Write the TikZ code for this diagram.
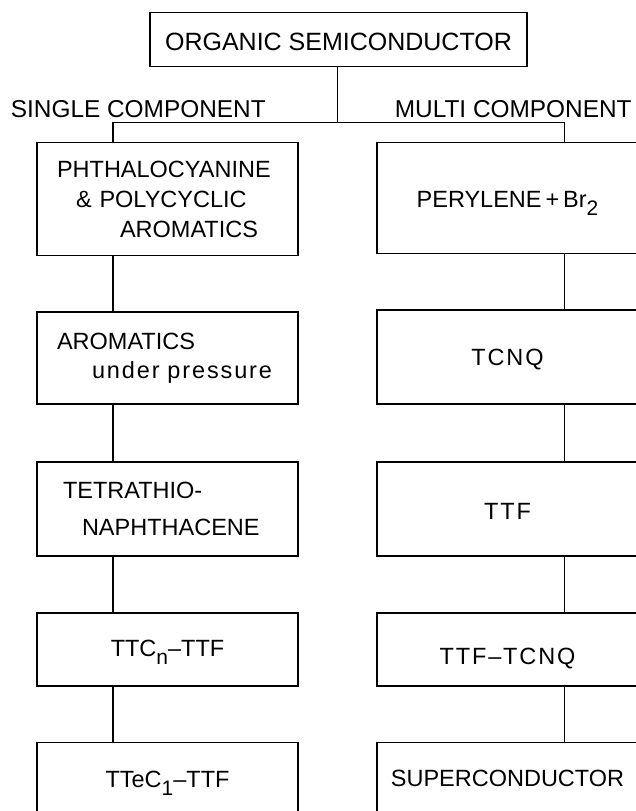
\documentclass[tikz,border=0pt]{standalone}
\usepackage{fontspec}
\setmainfont{Liberation Sans}
\newfontfamily\spaced[LetterSpace=8, Ligatures=TeX]{Liberation Sans}
\newcommand{\lowsub}[1]{\raisebox{-8pt}{\fontsize{21}{21}\selectfont #1}}
\begin{document}
\begin{tikzpicture}[x=1pt, y=-1pt, line width=1.7pt,
  box/.style={draw, rectangle, minimum width=261pt, inner sep=0pt, font=\fontsize{23.5}{30}\selectfont},
  lbox/.style={box, align=left, text width=221pt, inner xsep=20pt},
  one/.style={box, text height=#1, text depth=0pt},
  head/.style={anchor=base west, inner sep=0pt, font=\fontsize{24.4}{28}\selectfont}]
\useasboundingbox (0,0) rectangle (636,811);
% Kopf
\node[draw, minimum width=377pt, minimum height=54pt, inner sep=0pt, text height=21pt, text depth=0pt,
  font=\fontsize{25}{30}\selectfont] (top) at (338.5,39.5) {ORGANIC SEMICONDUCTOR};
\node[head] (single) at (10,117) {SINGLE COMPONENT};
\node[head] (multi) at (394,117) {MULTI COMPONENT};
\coordinate (split) at (337.5,122.5);
\coordinate (lcol) at (113,122.5);
\coordinate (rcol) at (564.5,122.5);
% linke Spalte
\node[lbox, minimum height=113pt] (l1) at (167.5,199) {PHTHALOCYANINE\\\hspace*{19pt}\& POLYCYCLIC\\\hspace*{63pt}AROMATICS};
\node[lbox, minimum height=92pt] (l2) at (167.5,358) {AROMATICS\\[-1pt]\hspace*{35pt}{\spaced under pressure}};
\node[lbox, inner xsep=26pt, text width=209pt, minimum height=94pt] (l3) at (167.5,509) {TETRATHIO-\\[7pt]\hspace*{19pt}NAPHTHACENE};
\node[one=13pt, minimum height=73pt] (l4) at (167.5,649.5) {TTC\lowsub{n}--TTF};
\node[one=13pt, minimum height=77pt] (l5) at (167.5,781) {TTeC\lowsub{1}--TTF};
% rechte Spalte
\node[one=19pt, minimum height=111pt] (r1) at (507.5,198) {PERYLENE\,+\,Br\lowsub{2}};
\node[one=16pt, minimum height=94pt] (r2) at (507.5,357) {\spaced TCNQ};
\node[one=20pt, minimum height=94pt] (r3) at (507.5,509) {\spaced TTF};
\node[one=29pt, minimum height=73pt] (r4) at (507.5,649.5) {\spaced TTF--TCNQ};
\node[one=10pt, minimum height=77pt] (r5) at (507.5,781) {SUPERCONDUCTOR};
% Verbindungen
\draw (top.south -| split) -- (split);
\draw (l1.north -| lcol) -- (lcol) -- (rcol) -- (r1.north -| rcol);
\foreach \a/\b in {l1/l2, l2/l3, l3/l4, l4/l5}
  \draw (\a.south -| lcol) -- (\b.north -| lcol);
\foreach \a/\b in {r1/r2, r2/r3, r3/r4, r4/r5}
  \draw (\a.south -| rcol) -- (\b.north -| rcol);
\end{tikzpicture}
\end{document}
